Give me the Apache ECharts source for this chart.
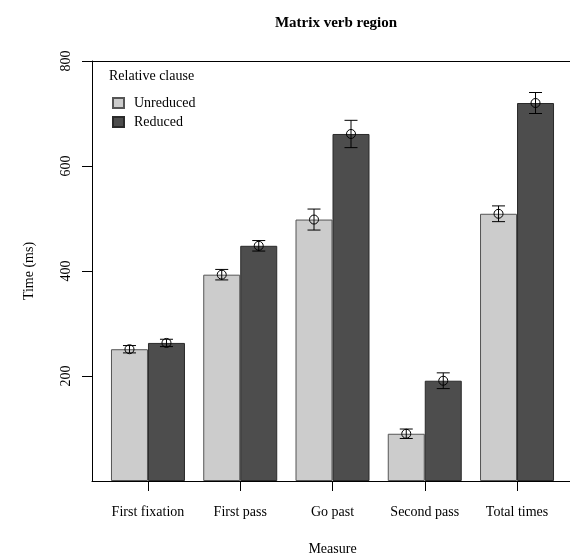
<!DOCTYPE html>
<html>
<head>
<meta charset="utf-8">
<script src="https://cdn.jsdelivr.net/npm/echarts@6/dist/echarts.min.js"></script>
<style>html,body{margin:0;padding:0;background:#fff}#c{width:570px;height:558px}</style>
</head>
<body>
<div id="c"></div>
<script>
const categories = ['First fixation', 'First pass', 'Go past', 'Second pass', 'Total times'];
const unreduced = [251, 393, 498, 90, 509];
const reduced = [263, 448, 661, 191, 720];
const unreducedErr = [7, 10, 20, 9, 15];
const reducedErr = [7, 10, 26, 15, 20];
const yTicks = [200, 400, 600, 800];
const seriesNames = ['Unreduced', 'Reduced'];

const FONT = '"Liberation Serif", "Times New Roman", serif';
const BAR_W = 37;

const chart = echarts.init(document.getElementById('c'), null, {renderer: 'canvas'});

function errorItem(offsetSign) {
  return function (params, api) {
    const i = api.value(0);
    const v = api.value(1);
    const e = api.value(2);
    const c = api.coord([i, v]);
    const x = c[0] + offsetSign * BAR_W / 2;
    const yTop = api.coord([i, v + e])[1];
    const yBot = api.coord([i, v - e])[1];
    const cap = 6.5;
    const st = {stroke: '#000', lineWidth: 1, fill: null};
    return {
      type: 'group',
      children: [
        {type: 'line', shape: {x1: x, y1: yTop, x2: x, y2: yBot}, style: st},
        {type: 'line', shape: {x1: x - cap, y1: yTop, x2: x + cap, y2: yTop}, style: st},
        {type: 'line', shape: {x1: x - cap, y1: yBot, x2: x + cap, y2: yBot}, style: st},
        {type: 'circle', shape: {cx: x, cy: c[1], r: 4.5}, style: {stroke: '#000', lineWidth: 1, fill: 'rgba(0,0,0,0)'}}
      ]
    };
  };
}

const option = {
  backgroundColor: '#fff',
  animation: false,
  textStyle: {fontFamily: FONT},
  title: [
    {text: 'Matrix verb region', left: 331, textAlign: 'center', top: 11,
     textStyle: {fontFamily: FONT, fontWeight: 'bold', fontSize: 15, color: '#000'}},
    {text: 'Relative clause', left: 104, top: 64,
     textStyle: {fontFamily: FONT, fontWeight: 'normal', fontSize: 14, color: '#000'}}
  ],
  legend: {
    orient: 'vertical', left: 107, top: 91, itemWidth: 11, itemHeight: 10, itemGap: 5,
    icon: 'rect',
    data: seriesNames,
    textStyle: {fontFamily: FONT, fontSize: 14, color: '#000', padding: [0, 0, 0, 5]}
  },
  grid: [
    {left: 92, right: 0, top: 61, bottom: 77, containLabel: false, outerBoundsMode: 'none'},
    {left: 101.85, right: 6.85, top: 61, bottom: 77, containLabel: false, outerBoundsMode: 'none'}
  ],
  xAxis: [
    {gridIndex: 0, type: 'value', min: 0, max: 1, position: 'bottom',
     axisLine: {show: true, lineStyle: {color: '#000', width: 1}}, axisTick: {show: false},
     axisLabel: {show: false}, splitLine: {show: false}},
    {gridIndex: 0, type: 'value', min: 0, max: 1, position: 'top',
     axisLine: {show: true, lineStyle: {color: '#000', width: 1}}, axisTick: {show: false},
     axisLabel: {show: false}, splitLine: {show: false}},
    {gridIndex: 1, type: 'category', data: categories, boundaryGap: true,
     axisLine: {show: false},
     axisTick: {show: true, alignWithLabel: true, length: 10, lineStyle: {color: '#000'}},
     axisLabel: {color: '#000', fontFamily: FONT, fontSize: 14, margin: 24, interval: 0},
     name: 'Measure', nameLocation: 'middle', nameGap: 61,
     nameTextStyle: {color: '#000', fontFamily: FONT, fontSize: 14}}
  ],
  yAxis: [
    {gridIndex: 0, type: 'value', min: 0, max: 800, interval: 200,
     axisLine: {show: true, lineStyle: {color: '#000', width: 1}},
     axisTick: {show: true, length: 10, customValues: yTicks, lineStyle: {color: '#000'}},
     axisLabel: {color: '#000', fontFamily: FONT, fontSize: 14, rotate: 90, margin: 19, customValues: yTicks},
     splitLine: {show: false},
     name: 'Time (ms)', nameLocation: 'middle', nameGap: 56, nameRotate: 90,
     nameTextStyle: {color: '#000', fontFamily: FONT, fontSize: 14}},
    {gridIndex: 1, type: 'value', min: 0, max: 800, show: false}
  ],
  series: [
    {name: seriesNames[0], type: 'bar', xAxisIndex: 2, yAxisIndex: 1, data: unreduced,
     barWidth: BAR_W, barGap: '0%',
     itemStyle: {color: '#cccccc', borderColor: '#555555', borderWidth: 1}},
    {name: seriesNames[1], type: 'bar', xAxisIndex: 2, yAxisIndex: 1, data: reduced,
     barWidth: BAR_W, barGap: '0%',
     itemStyle: {color: '#4d4d4d', borderColor: '#2a2a2a', borderWidth: 1}},
    {type: 'custom', xAxisIndex: 2, yAxisIndex: 1, renderItem: errorItem(-1),
     data: unreduced.map((v, i) => [i, v, unreducedErr[i]]), z: 10, silent: true},
    {type: 'custom', xAxisIndex: 2, yAxisIndex: 1, renderItem: errorItem(1),
     data: reduced.map((v, i) => [i, v, reducedErr[i]]), z: 10, silent: true}
  ]
};
chart.setOption(option);
</script>
</body>
</html>
